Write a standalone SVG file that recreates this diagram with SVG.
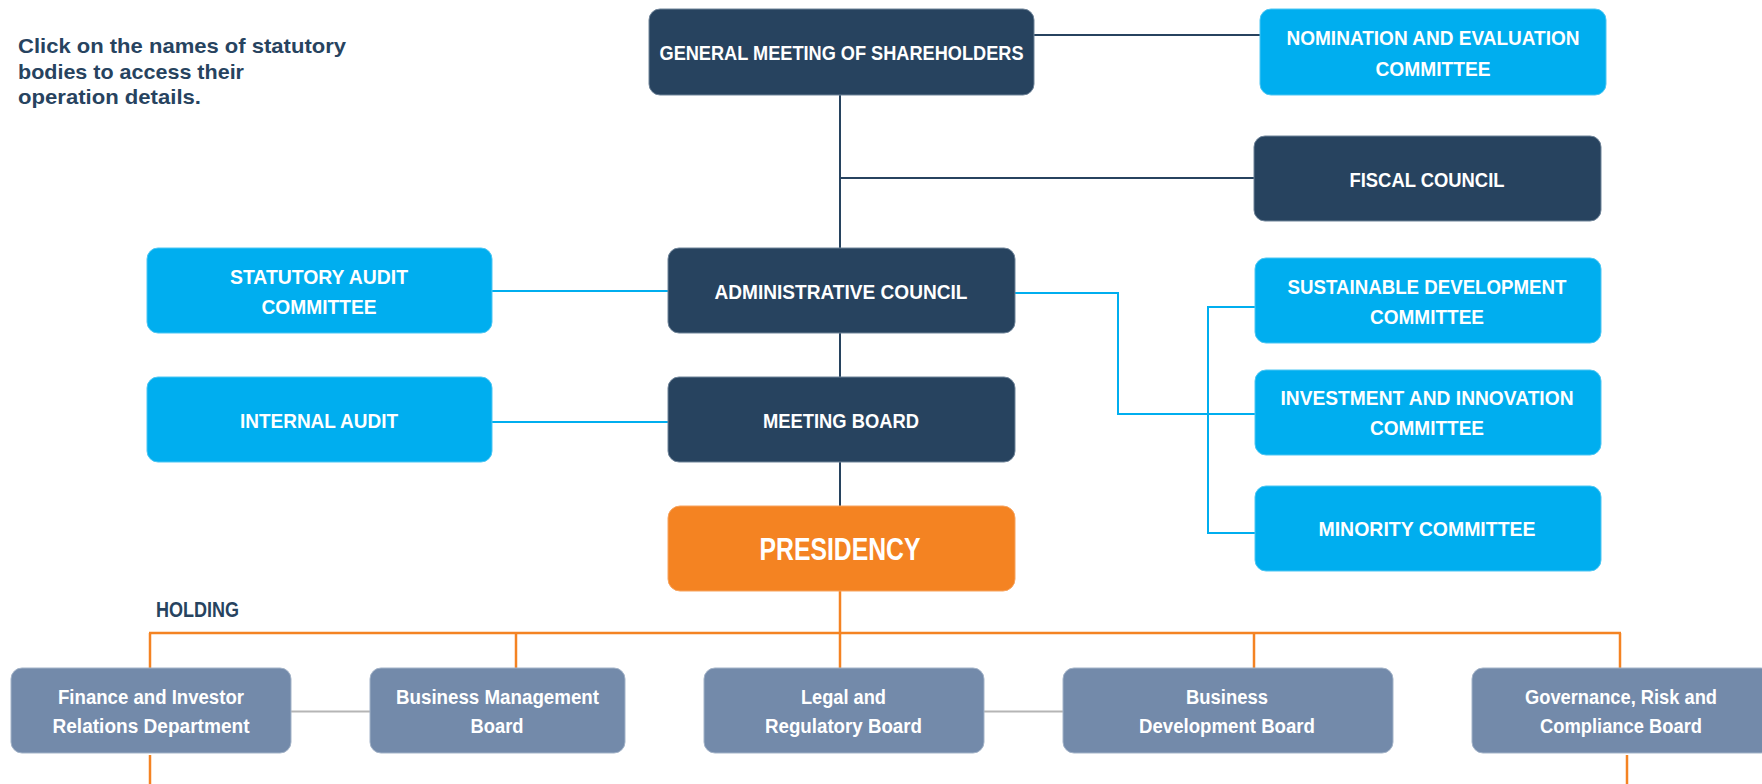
<svg xmlns="http://www.w3.org/2000/svg" width="1762" height="784" viewBox="0 0 1762 784">
  <style>
    .navy { fill: #27435f; stroke: #6f8499; stroke-width: 1; }
    .sky { fill: #00aeef; stroke: #4cc6f3; stroke-width: 1; }
    .orange { fill: #f48322; stroke: #f7a35e; stroke-width: 1; }
    .slate { fill: #738aaa; stroke: #a3b3c8; stroke-width: 1; }
    .lbl { font-family: "Liberation Sans", Arial, sans-serif; font-weight: bold; fill: #ffffff; font-size: 21px; text-anchor: middle; }
    .low { font-size: 20px; }
    .big { font-size: 32px; }
    .note { font-family: "Liberation Sans", Arial, sans-serif; font-weight: bold; fill: #27435f; font-size: 21px; }
    .hold { font-size: 22px; }
    .c-navy { stroke: #27435f; stroke-width: 2; fill: none; }
    .c-sky { stroke: #00aeef; stroke-width: 2; fill: none; }
    .c-orange { stroke: #f48322; stroke-width: 2.5; fill: none; }
    .c-gray { stroke: #b5b5b5; stroke-width: 2; fill: none; }
  </style>

  <!-- instruction note -->
  <g id="note">
    <text class="note" x="18" y="53" textLength="328" lengthAdjust="spacingAndGlyphs">Click on the names of statutory</text>
    <text class="note" x="18" y="78.5" textLength="226" lengthAdjust="spacingAndGlyphs">bodies to access their</text>
    <text class="note" x="18" y="104" textLength="183" lengthAdjust="spacingAndGlyphs">operation details.</text>
  </g>

  <!-- connectors -->
  <g id="connectors">
    <!-- governance spine -->
    <line class="c-navy" x1="1034" y1="35" x2="1260" y2="35"/>
    <line class="c-navy" x1="840" y1="95" x2="840" y2="248"/>
    <line class="c-navy" x1="840" y1="178" x2="1254" y2="178"/>
    <line class="c-navy" x1="840" y1="333" x2="840" y2="377"/>
    <line class="c-navy" x1="840" y1="462" x2="840" y2="506"/>
    <!-- committees -->
    <line class="c-sky" x1="492" y1="291" x2="668" y2="291"/>
    <line class="c-sky" x1="492" y1="422" x2="668" y2="422"/>
    <polyline class="c-sky" points="1015,293 1118,293 1118,414 1255,414"/>
    <polyline class="c-sky" points="1255,307 1208,307 1208,533 1255,533"/>
    <!-- holding tree -->
    <line class="c-orange" x1="840" y1="591" x2="840" y2="633"/>
    <line class="c-orange" x1="149" y1="633" x2="1621" y2="633"/>
    <line class="c-orange" x1="150" y1="633" x2="150" y2="668"/>
    <line class="c-orange" x1="516" y1="633" x2="516" y2="668"/>
    <line class="c-orange" x1="840" y1="633" x2="840" y2="668"/>
    <line class="c-orange" x1="1254" y1="633" x2="1254" y2="668"/>
    <line class="c-orange" x1="1620" y1="633" x2="1620" y2="668"/>
    <line class="c-orange" x1="150" y1="755" x2="150" y2="784"/>
    <line class="c-orange" x1="1627" y1="755" x2="1627" y2="784"/>
    <line class="c-gray" x1="291" y1="711.5" x2="370" y2="711.5"/>
    <line class="c-gray" x1="984" y1="711.5" x2="1063" y2="711.5"/>
  </g>

  <g id="general-meeting">
    <rect class="navy" x="649" y="9" width="385" height="86" rx="11"/>
    <text class="lbl" x="841.5" y="60" textLength="364" lengthAdjust="spacingAndGlyphs">GENERAL MEETING OF SHAREHOLDERS</text>
  </g>
  <g id="nomination-committee">
    <rect class="sky" x="1260" y="9" width="346" height="86" rx="11"/>
    <text class="lbl" x="1433" y="45" textLength="293" lengthAdjust="spacingAndGlyphs">NOMINATION AND EVALUATION</text>
    <text class="lbl" x="1433" y="76" textLength="115" lengthAdjust="spacingAndGlyphs">COMMITTEE</text>
  </g>
  <g id="fiscal-council">
    <rect class="navy" x="1254" y="136" width="347" height="85" rx="11"/>
    <text class="lbl" x="1427" y="186.5" textLength="155" lengthAdjust="spacingAndGlyphs">FISCAL COUNCIL</text>
  </g>
  <g id="statutory-audit-committee">
    <rect class="sky" x="147" y="248" width="345" height="85" rx="11"/>
    <text class="lbl" x="319" y="283.5" textLength="178" lengthAdjust="spacingAndGlyphs">STATUTORY AUDIT</text>
    <text class="lbl" x="319" y="313.5" textLength="115" lengthAdjust="spacingAndGlyphs">COMMITTEE</text>
  </g>
  <g id="administrative-council">
    <rect class="navy" x="668" y="248" width="347" height="85" rx="11"/>
    <text class="lbl" x="841" y="299" textLength="253" lengthAdjust="spacingAndGlyphs">ADMINISTRATIVE COUNCIL</text>
  </g>
  <g id="internal-audit">
    <rect class="sky" x="147" y="377" width="345" height="85" rx="11"/>
    <text class="lbl" x="319" y="427.5" textLength="158" lengthAdjust="spacingAndGlyphs">INTERNAL AUDIT</text>
  </g>
  <g id="meeting-board">
    <rect class="navy" x="668" y="377" width="347" height="85" rx="11"/>
    <text class="lbl" x="841" y="427.5" textLength="156" lengthAdjust="spacingAndGlyphs">MEETING BOARD</text>
  </g>
  <g id="sustainable-development-committee">
    <rect class="sky" x="1255" y="258" width="346" height="85" rx="11"/>
    <text class="lbl" x="1427" y="293.5" textLength="279" lengthAdjust="spacingAndGlyphs">SUSTAINABLE DEVELOPMENT</text>
    <text class="lbl" x="1427" y="323.5" textLength="114" lengthAdjust="spacingAndGlyphs">COMMITTEE</text>
  </g>
  <g id="investment-innovation-committee">
    <rect class="sky" x="1255" y="370" width="346" height="85" rx="11"/>
    <text class="lbl" x="1427" y="404.5" textLength="293" lengthAdjust="spacingAndGlyphs">INVESTMENT AND INNOVATION</text>
    <text class="lbl" x="1427" y="435" textLength="114" lengthAdjust="spacingAndGlyphs">COMMITTEE</text>
  </g>
  <g id="minority-committee">
    <rect class="sky" x="1255" y="486" width="346" height="85" rx="11"/>
    <text class="lbl" x="1427" y="535.5" textLength="217" lengthAdjust="spacingAndGlyphs">MINORITY COMMITTEE</text>
  </g>
  <g id="presidency">
    <rect class="orange" x="668" y="506" width="347" height="85" rx="12"/>
    <text class="lbl big" x="840" y="560" textLength="161" lengthAdjust="spacingAndGlyphs">PRESIDENCY</text>
  </g>

  <g id="holding-label">
    <text class="note hold" x="156" y="617" textLength="83" lengthAdjust="spacingAndGlyphs">HOLDING</text>
  </g>

  <g id="finance-investor-relations">
    <rect class="slate" x="11" y="668" width="280" height="85" rx="11"/>
    <text class="lbl low" x="151" y="703.5" textLength="186" lengthAdjust="spacingAndGlyphs">Finance and Investor</text>
    <text class="lbl low" x="151" y="733" textLength="197" lengthAdjust="spacingAndGlyphs">Relations Department</text>
  </g>
  <g id="business-management-board">
    <rect class="slate" x="370" y="668" width="255" height="85" rx="11"/>
    <text class="lbl low" x="497.5" y="703.5" textLength="203" lengthAdjust="spacingAndGlyphs">Business Management</text>
    <text class="lbl low" x="497" y="733" textLength="53" lengthAdjust="spacingAndGlyphs">Board</text>
  </g>
  <g id="legal-regulatory-board">
    <rect class="slate" x="704" y="668" width="280" height="85" rx="11"/>
    <text class="lbl low" x="843.5" y="703.5" textLength="85" lengthAdjust="spacingAndGlyphs">Legal and</text>
    <text class="lbl low" x="843.5" y="733" textLength="157" lengthAdjust="spacingAndGlyphs">Regulatory Board</text>
  </g>
  <g id="business-development-board">
    <rect class="slate" x="1063" y="668" width="330" height="85" rx="11"/>
    <text class="lbl low" x="1227" y="703.5" textLength="82" lengthAdjust="spacingAndGlyphs">Business</text>
    <text class="lbl low" x="1227" y="733" textLength="176" lengthAdjust="spacingAndGlyphs">Development Board</text>
  </g>
  <g id="governance-risk-compliance-board">
    <rect class="slate" x="1472" y="668" width="300" height="85" rx="11"/>
    <text class="lbl low" x="1621" y="703.5" textLength="192" lengthAdjust="spacingAndGlyphs">Governance, Risk and</text>
    <text class="lbl low" x="1621" y="733" textLength="162" lengthAdjust="spacingAndGlyphs">Compliance Board</text>
  </g>
</svg>
